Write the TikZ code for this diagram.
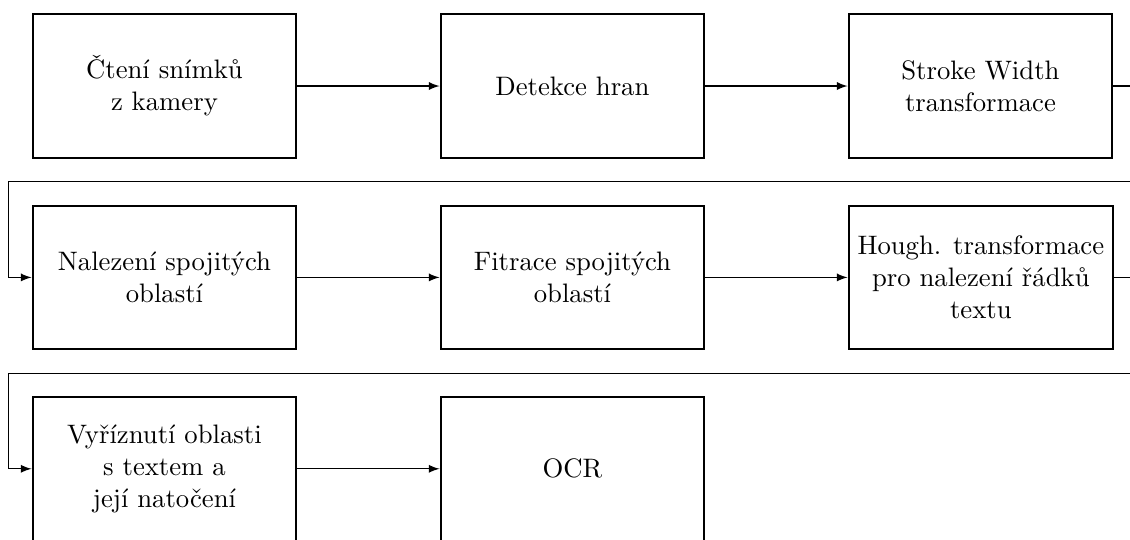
\documentclass[tikz,border=0pt]{standalone}
\usetikzlibrary{positioning}

\tikzset{
  block/.style={draw, thick, minimum width=3.47cm, minimum height=1.89cm, align=center}
}

\begin{document}
\begin{tikzpicture}[node distance=0.6cm and 1.87cm, >=latex]
        \useasboundingbox (-2.164,-5.96) rectangle (12.704,1.132);

        \node[block] (cteni) {Čtení snímků\\z kamery};
        \node[block, right=of cteni] (hrany) {Detekce hran};
        \node[block, right=of hrany] (swt) {Stroke Width\\transformace};

        \node[block, below=of cteni] (nalezeni) {Nalezení spojitých\\oblastí};
        \node[block, right=of nalezeni] (fitrace) {Fitrace spojitých\\oblastí};
        \node[block, right=of fitrace] (hough) {Hough. transformace\\pro nalezení řádků\\textu};

        \node[block, below=of nalezeni] (vyrez) {Vyříznutí oblasti\\s textem a\\její natočení};
        \node[block, right=of vyrez] (ocr) {OCR};

        \draw[->] (cteni) -- (hrany);
        \draw[->] (hrany) -- (swt);
        \draw[->] (swt.east) -- ++(0.3,0) |- ([shift={(-0.3,0.3)}]nalezeni.north west) |- (nalezeni.west);

        \draw[->] (nalezeni) -- (fitrace);
        \draw[->] (fitrace) -- (hough);
        \draw[->] (hough.east) -- ++(0.3,0) |- ([shift={(-0.3,0.3)}]vyrez.north west) |- (vyrez.west);

        \draw[->] (vyrez) -- (ocr);

        \end{tikzpicture}
\end{document}
